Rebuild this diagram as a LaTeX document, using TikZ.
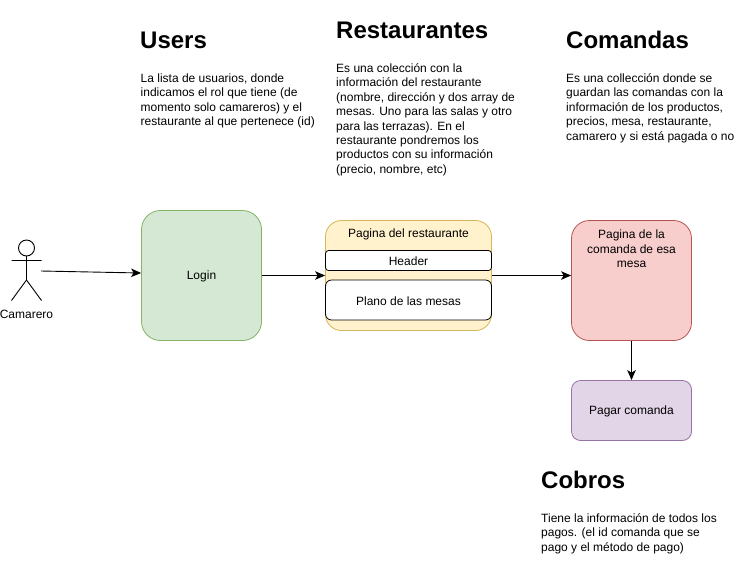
\documentclass[tikz,border=0pt]{standalone}
\usepackage{fontspec}
\setmainfont{Liberation Sans}
\usetikzlibrary{arrows.meta}
\definecolor{gfill}{HTML}{D5E8D4}\definecolor{gline}{HTML}{82B366}
\definecolor{yfill}{HTML}{FFF2CC}\definecolor{yline}{HTML}{D6B656}
\definecolor{rfill}{HTML}{F8CECC}\definecolor{rline}{HTML}{B85450}
\definecolor{pfill}{HTML}{E1D5E7}\definecolor{pline}{HTML}{9673A6}
\newcommand{\drop}[1]{\raisebox{-0.8pt}[\height][\depth]{#1}}
\tikzset{
  box/.style={draw,rectangle,line width=0.8pt,inner sep=0pt,font=\fontsize{12}{14.4}\selectfont,align=center},
  title/.style={anchor=base west,inner sep=0pt,font=\fontsize{24}{28}\selectfont\bfseries},
  para/.style={anchor=north west,inner sep=0pt,align=left,font=\fontsize{12}{14.4}\selectfont},
  lab/.style={inner sep=0pt,font=\fontsize{12}{14.4}\selectfont,align=center},
  conn/.style={line width=0.9pt,-{Stealth[length=10pt,width=8.5pt,inset=2.5pt]}},
  stick/.style={line width=0.9pt}
}
\begin{document}
\begin{tikzpicture}[x=1pt,y=-1pt]
\useasboundingbox (0,0) rectangle (752,571);
% titles and descriptions
\node[title] (t1) at (140,48) {Users};
\node[para] (p1) at (140.5,73.5) {La lista de usuarios, donde\\indicamos el rol que tiene (de\\momento solo camareros) y el\\restaurante al que pertenece (id)};
\node[title] (t2) at (336,38) {Restaurantes};
\node[para] (p2) at (336,63.5) {Es una colección con la\\información del restaurante\\(nombre, dirección y dos array de\\mesas. Uno para las salas y otro\\para las terrazas). En el\\restaurante pondremos los\\productos con su información\\(precio, nombre, etc)};
\node[title] (t3) at (566,48) {Comandas};
\node[para] (p3) at (566,73.5) {Es una collección donde se\\guardan las comandas con la\\información de los productos,\\precios, mesa, restaurante,\\camarero y si está pagada o no};
\node[title] (t4) at (541,488) {Cobros};
\node[para] (p4) at (541,513.5) {Tiene la información de todos los\\pagos. (el id comanda que se\\pago y el método de pago)};
% actor
\coordinate (head) at (26.5,248);
\coordinate (neck) at (26.5,256);
\coordinate (hip) at (26.5,280);
\coordinate (armL) at (11.5,260.5);
\coordinate (armR) at (41.5,260.5);
\coordinate (legL) at (11.5,300.5);
\coordinate (legR) at (41.5,300.5);
\coordinate (actorOut) at (41,271);
\draw[stick] (head) circle[radius=8];
\draw[stick] (neck) -- (hip) (armL) -- (armR) (legL) -- (hip) -- (legR);
\node[lab] (actor) at (26.5,314) {Camarero};
% boxes
\node[box,fill=gfill,draw=gline,rounded corners=19pt,minimum width=120pt,minimum height=130pt] (login) at (201.5,275.5) {\drop{Login}};
\node[box,fill=yfill,draw=yline,rounded corners=16pt,minimum width=166pt,minimum height=110pt] (rest) at (408.5,275.5) {};
\node[lab] (restlab) at (408.5,234) {Pagina del restaurante};
\node[box,fill=white,draw=black,rounded corners=3pt,minimum width=166pt,minimum height=20pt] (header) at (408.5,260.5) {\drop{Header}};
\node[box,fill=white,draw=black,rounded corners=6pt,minimum width=166pt,minimum height=40pt] (plano) at (408.5,300) {\drop{Plano de las mesas}};
\node[box,fill=rfill,draw=rline,rounded corners=18pt,minimum width=120pt,minimum height=120pt] (comanda) at (631.5,280.5) {};
\node[lab] (comandalab) at (631.5,249) {Pagina de la\\comanda de esa\\mesa};
\node[box,fill=pfill,draw=pline,rounded corners=9pt,minimum width=120pt,minimum height=60pt] (pagar) at (631.5,410.5) {\drop{Pagar comanda}};
% connectors
\draw[conn] (actorOut) -- (login.west |- 0,273);
\draw[conn] (login.east |- rest.west) -- (rest.west);
\draw[conn] (rest.east) -- (rest.east -| comanda.west);
\draw[conn] (comanda.south) -- (pagar.north);
\end{tikzpicture}
\end{document}
